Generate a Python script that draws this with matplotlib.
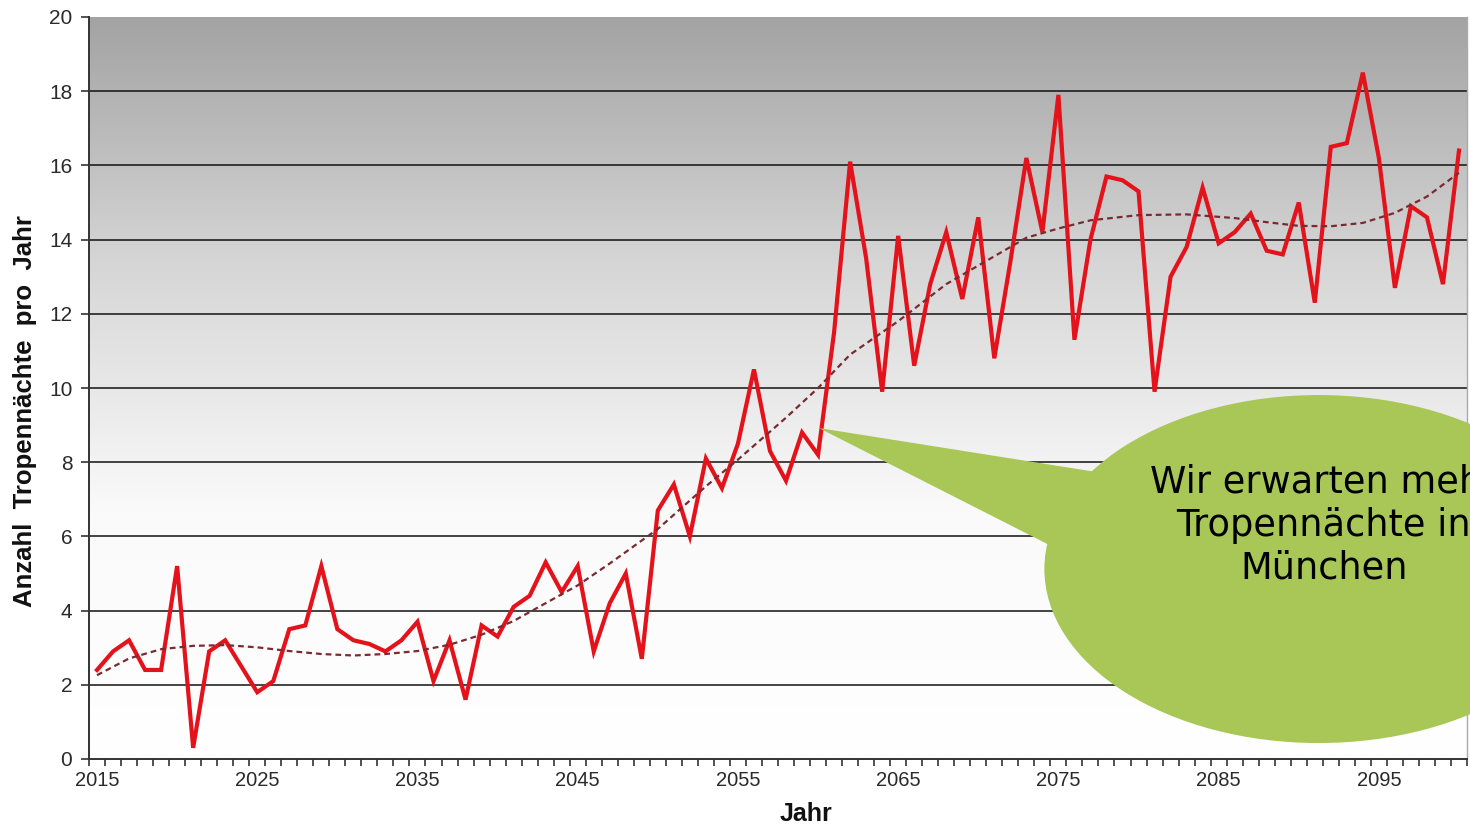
import numpy as np
import matplotlib
matplotlib.use("Agg")
import matplotlib.pyplot as plt
from matplotlib.patches import Ellipse, Polygon
from matplotlib.colors import LinearSegmentedColormap

years = list(range(2015, 2101))
tropennaechte = [
    2.4, 2.9, 3.2, 2.4, 2.4, 5.2, 0.3, 2.9, 3.2, 2.5,   # 2015-2024
    1.8, 2.1, 3.5, 3.6, 5.2, 3.5, 3.2, 3.1, 2.9, 3.2,   # 2025-2034
    3.7, 2.1, 3.2, 1.6, 3.6, 3.3, 4.1, 4.4, 5.3, 4.5,   # 2035-2044
    5.2, 2.9, 4.2, 5.0, 2.7, 6.7, 7.4, 6.0, 8.1, 7.3,   # 2045-2054
    8.5, 10.5, 8.3, 7.5, 8.8, 8.2, 11.5, 16.1, 13.5, 9.9,  # 2055-2064
    14.1, 10.6, 12.8, 14.2, 12.4, 14.6, 10.8, 13.4, 16.2, 14.2,  # 2065-2074
    17.9, 11.3, 14.0, 15.7, 15.6, 15.3, 9.9, 13.0, 13.8, 15.4,  # 2075-2084
    13.9, 14.2, 14.7, 13.7, 13.6, 15.0, 12.3, 16.5, 16.6, 18.5,  # 2085-2094
    16.2, 12.7, 14.9, 14.6, 12.8, 16.4,                   # 2095-2100
]
# trend line (polynomial trend of the original chart)
trend_years = [2015, 2017, 2019, 2021, 2023, 2025, 2027, 2029, 2031, 2033,
               2035, 2037, 2039, 2041, 2043, 2045, 2047, 2050, 2053, 2055,
               2058, 2060, 2062, 2065, 2068, 2070, 2073, 2075, 2077, 2080,
               2083, 2086, 2088, 2090, 2092, 2094, 2096, 2098, 2100]
trend_values = [2.26, 2.71, 2.96, 3.05, 3.07, 3.01, 2.91, 2.83, 2.79, 2.83,
                2.91, 3.08, 3.35, 3.72, 4.20, 4.68, 5.27, 6.20, 7.35, 8.07,
                9.20, 10.00, 10.90, 11.80, 12.80, 13.30, 14.05, 14.30, 14.52, 14.66,
                14.68, 14.58, 14.47, 14.37, 14.36, 14.45, 14.72, 15.16, 15.80]
label_years = [2015, 2025, 2035, 2045, 2055, 2065, 2075, 2085, 2095]
y_ticks = [0, 2, 4, 6, 8, 10, 12, 14, 16, 18, 20]
callout_text = "Wir erwarten mehr\nTropennächte in\nMünchen"
y_label = "Anzahl  Tropennächte  pro  Jahr"
x_label = "Jahr"

W, H = 1470, 826
fig = plt.figure(figsize=(W / 100, H / 100), dpi=100)
fig.patch.set_facecolor("white")
ax = fig.add_axes([89 / W, 1 - 759 / H, (1467 - 89) / W, (759 - 17) / H])

idx = np.arange(len(years))
ax.set_xlim(-0.5, len(years) - 0.5)
ax.set_ylim(0, 20)

# gradient background
grad = np.linspace(0, 1, 256).reshape(-1, 1)
cmap = LinearSegmentedColormap.from_list("g", ["#ffffff", "#fafafa", "#d6d6d6", "#a3a3a3"], N=256)
ax.imshow(grad, aspect="auto", cmap=cmap, origin="lower",
          extent=[-0.5, len(years) - 0.5, 0, 20], zorder=0, interpolation="bicubic")

# grid lines
for yv in y_ticks[1:-1]:
    ax.axhline(yv, color="#111111", lw=1.1, zorder=1)

# data
ax.plot(idx, tropennaechte, color="#e3121b", lw=3.0, zorder=3, solid_joinstyle="miter")

# trend line
trend_idx = [years.index(y) for y in trend_years]
ax.plot(trend_idx, trend_values, color="#7a2a30", lw=1.6, dashes=(2.6, 1.8), zorder=4)

# axes styling
ax.spines["top"].set_visible(False)
ax.spines["right"].set_color("#aaaaaa")
ax.spines["right"].set_linewidth(1.0)
ax.spines["left"].set_color("#333333")
ax.spines["bottom"].set_color("#333333")
ax.spines["left"].set_linewidth(1.4)
ax.spines["bottom"].set_linewidth(1.4)

ax.set_xticks(np.arange(-0.5, len(years), 1.0))
ax.set_xticklabels([])
ax.tick_params(axis="x", which="major", length=5, width=1.2, color="#333333", direction="out")
lab_pos = [years.index(y) for y in label_years]
ax.set_xticks(lab_pos, minor=True)
ax.set_xticklabels([str(y) for y in label_years], minor=True,
                   fontsize=14.5, family="Liberation Sans", color="#2a2a2a")
ax.tick_params(axis="x", which="minor", length=0, pad=9)

ax.set_yticks(y_ticks)
ax.set_yticklabels([str(v) for v in y_ticks], fontsize=15, family="Liberation Sans", color="#2a2a2a")
ax.tick_params(axis="y", length=6, width=1.2, color="#333333", direction="out", pad=6)

fig.text(25 / W, 1 - 411 / H, y_label, rotation=90, ha="center", va="center",
         fontsize=18.5, fontweight="bold", family="Liberation Sans", color="#111111")
fig.text(806 / W, 1 - 814 / H, x_label, ha="center", va="center",
         fontsize=18, fontweight="bold", family="Liberation Sans", color="#111111")

# callout bubble (in data coordinates of the axes, not clipped; cut by the figure edge like the original)
green = "#a8c757"
ell = Ellipse((76.25, 5.12), 34.25, 9.38, facecolor=green, edgecolor="none",
              zorder=10, clip_on=False)
ax.add_patch(ell)
tail = Polygon([[45.06, 8.92], [62.9, 7.7], [60.2, 5.6]], closed=True,
               facecolor=green, edgecolor="none", zorder=10, clip_on=False)
ax.add_patch(tail)
ax.text(76.56, 6.3, callout_text, ha="center", va="center", fontsize=26.5,
        family="DejaVu Sans", color="black", linespacing=1.2, zorder=11, clip_on=False)

fig.savefig("out.png", dpi=100)
